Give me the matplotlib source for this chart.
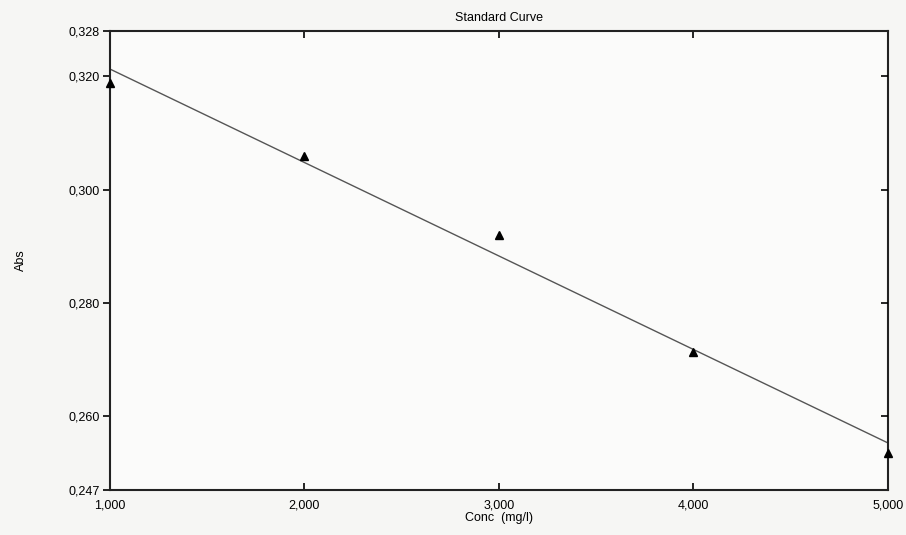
import numpy as np
import matplotlib
matplotlib.use("Agg")
import matplotlib.pyplot as plt

plt.rcParams['font.family'] = ['Liberation Sans', 'DejaVu Sans']

conc = [1.0, 2.0, 3.0, 4.0, 5.0]
absorb = [0.3188, 0.3059, 0.2920, 0.2713, 0.2536]
x_ticks = [1.0, 2.0, 3.0, 4.0, 5.0]
y_ticks = [0.247, 0.260, 0.280, 0.300, 0.320, 0.328]
y_inner_ticks = [0.260, 0.280, 0.300, 0.320]

def fmt(v, d=3):
    return f"{v:.{d}f}".replace('.', ',')

fig = plt.figure(figsize=(9.06, 5.35), dpi=100)
fig.patch.set_facecolor('#f6f6f4')
ax = fig.add_axes([0.121, 0.084, 0.859, 0.858])
ax.set_facecolor('#fbfbfa')

# linear fit through the points
k, b = np.polyfit(conc, absorb, 1)
xs = np.array([conc[0], conc[-1]])
ax.plot(xs, k * xs + b, color='#555555', lw=1.0, zorder=2)
ax.plot(conc, absorb, linestyle='none', marker='^', ms=6, color='black',
        clip_on=False, zorder=3)

ax.set_xlim(1.0, 5.0)
ax.set_ylim(0.247, 0.328)
ax.set_xticks(x_ticks)
ax.set_xticklabels([fmt(v) for v in x_ticks], fontsize=9)
ax.set_yticks(y_ticks)
ax.set_yticklabels([fmt(v) for v in y_ticks], fontsize=9)
ax.tick_params(axis='y', direction='out', length=5, width=1.2, pad=2)
ax.tick_params(axis='x', direction='in', length=5, width=1.2, pad=7,
               top=True)

for s in ax.spines.values():
    s.set_linewidth(1.5)
    s.set_color('#222222')

tw = ax.twinx()
tw.set_ylim(ax.get_ylim())
tw.set_yticks(y_inner_ticks)
tw.tick_params(axis='y', direction='in', length=5, width=1.2, labelright=False)
for s in tw.spines.values():
    s.set_visible(False)

ax.set_title('Standard Curve', fontsize=9, pad=7)
ax.set_xlabel('Conc  (mg/l)', fontsize=9, labelpad=0)
ax.set_ylabel('Abs', fontsize=9, labelpad=30)

fig.savefig('out.png', dpi=100, facecolor=fig.get_facecolor())
